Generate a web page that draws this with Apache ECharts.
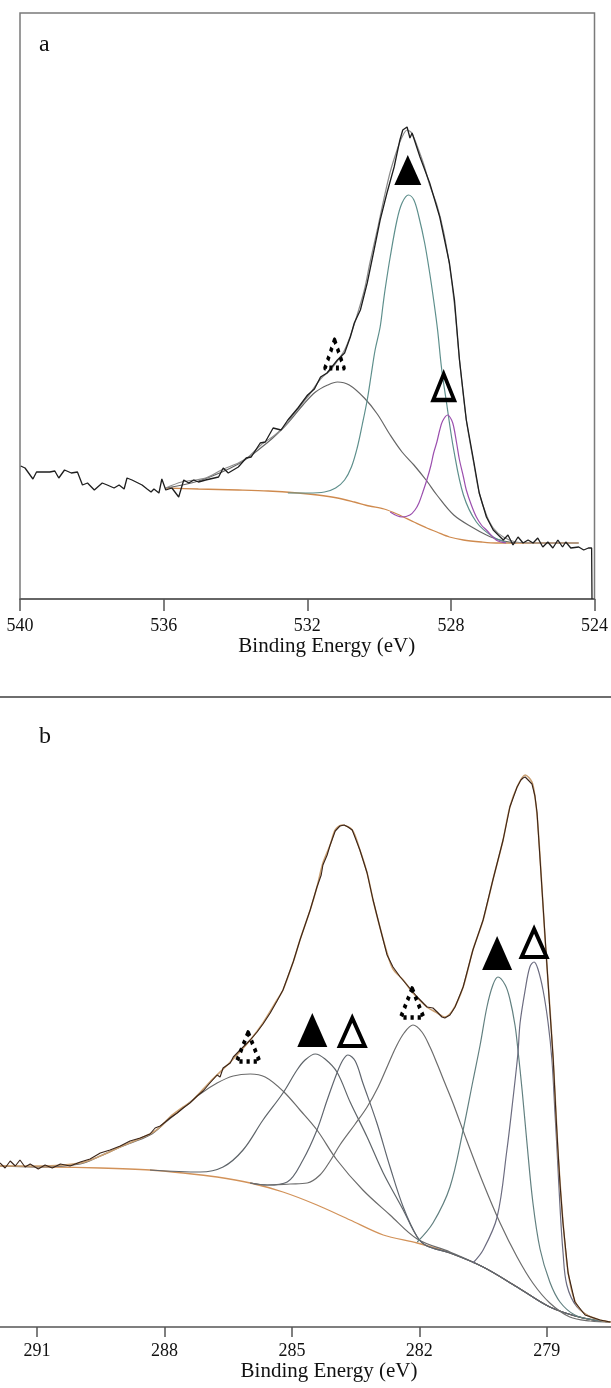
<!DOCTYPE html>
<html><head><meta charset="utf-8">
<script src="https://cdn.jsdelivr.net/npm/echarts@6/dist/echarts.min.js"></script>
<style>html,body{margin:0;padding:0;background:#fff}#c{width:611px;height:1388px}</style>
</head><body><div id="c"></div>
<script>
// ---------- Panel a (O 1s): [binding energy eV, intensity a.u.] ----------
const aTicks = [540, 536, 532, 528, 524];
const aRaw = [[539.98,133],[539.86,131],[539.64,120],[539.54,127],[539.17,127],[539.03,128],[538.92,121],[538.76,129],[538.57,126],[538.40,127],[538.26,114],[538.12,116],[537.93,109],[537.71,116],[537.57,114],[537.38,111],[537.24,114],[537.10,110],[537.02,121],[536.88,119],[536.60,114],[536.46,110],[536.35,107],[536.27,110],[536.13,106],[536.05,120],[535.94,109],[535.77,111],[535.58,102],[535.44,119],[535.30,116],[535.16,119],[535.03,117],[534.83,119],[534.47,122],[534.34,131],[534.20,126],[533.92,132],[533.70,141],[533.56,142],[533.31,156],[533.17,157],[532.95,171],[532.73,169],[532.54,179],[532.26,191],[531.99,204],[531.80,210],[531.63,222],[531.45,226],[531.16,239],[530.96,246],[530.80,262],[530.69,276],[530.52,289],[530.33,316],[530.14,349],[529.97,379],[529.78,406],[529.58,432],[529.42,459],[529.34,469],[529.22,472],[529.14,461],[529.08,466],[529.03,464],[528.86,442],[528.59,416],[528.31,382],[528.04,336],[527.90,299],[527.76,239],[527.57,179],[527.37,139],[527.21,106],[527.01,82],[526.82,69],[526.54,59],[526.41,64],[526.27,54],[526.13,62],[525.99,56],[525.85,59],[525.71,56],[525.58,61],[525.44,52],[525.30,57],[525.16,51],[525.02,59],[524.89,52],[524.80,57],[524.66,51],[524.44,52],[524.30,49],[524.17,51],[524.08,51],[524.07,0]];
const aEnvelope = [[535.94,111],[535.50,117],[534.83,121],[534.39,129],[533.92,136],[533.64,142],[533.29,154],[532.90,164],[532.62,173],[532.35,186],[531.99,202],[531.63,220],[531.35,229],[531.16,238],[530.96,249],[530.80,263],[530.61,284],[530.41,309],[530.25,337],[530.05,369],[529.86,401],[529.69,427],[529.50,449],[529.36,462],[529.22,469],[529.09,466],[528.95,454],[528.75,434],[528.59,414],[528.39,394],[528.20,367],[528.04,334],[527.90,294],[527.76,239],[527.57,179],[527.37,137],[527.21,106],[527.01,84],[526.82,71],[526.54,62],[526.18,57],[525.63,56],[525.08,56],[524.44,56]];
const aBackground = [[535.94,111],[535.03,110],[533.92,109],[533.09,108],[532.26,106],[531.71,104],[531.16,101],[530.69,97],[530.27,93],[529.86,90],[529.50,85],[529.03,77],[528.67,71],[528.39,67],[528.04,62],[527.65,59],[527.15,57],[526.74,56],[525.63,56],[524.44,56]];
const aPeak1 = [[535.94,111],[535.03,118],[533.92,135],[533.09,157],[532.54,176],[532.12,194],[531.77,207],[531.43,214],[531.16,217],[530.83,214],[530.41,201],[530.05,185],[529.69,164],[529.36,147],[529.03,134],[528.67,118],[528.39,104],[527.92,84],[527.37,71],[527.01,64],[526.65,59],[526.18,56]];
const aPeak2 = [[532.54,106],[531.99,106],[531.52,107],[531.21,111],[530.96,119],[530.77,132],[530.61,151],[530.47,174],[530.33,199],[530.22,224],[530.11,249],[529.97,272],[529.89,294],[529.83,310],[529.69,342],[529.50,379],[529.36,396],[529.18,404],[529.03,399],[528.89,382],[528.73,356],[528.59,326],[528.48,299],[528.37,269],[528.26,231],[528.12,196],[527.92,149],[527.65,104],[527.29,77],[526.82,62],[526.46,57]];
const aPeak3 = [[529.69,87],[529.36,82],[529.14,84],[529.00,89],[528.89,96],[528.78,107],[528.67,119],[528.56,133],[528.48,146],[528.39,157],[528.31,169],[528.23,178],[528.09,184],[527.98,179],[527.92,172],[527.84,156],[527.76,139],[527.65,122],[527.57,109],[527.43,94],[527.29,82],[527.15,74],[527.01,69],[526.74,59],[526.46,56]];
const aMarkFilled = [[529.20,429]];
const aMarkOpen = [[528.20,212]];
const aMarkDotted = [[531.24,245]];

// ---------- Panel b (C 1s): [binding energy eV, intensity a.u.] ----------
const bTicks = [291, 288, 285, 282, 279];
const bRaw = [[291.87,164],[291.75,159],[291.63,166],[291.51,161],[291.40,167],[291.28,160],[291.16,163],[290.97,158],[290.81,162],[290.64,159],[290.45,163],[290.22,161],[289.98,165],[289.75,168],[289.51,174],[289.28,177],[289.04,181],[288.81,186],[288.57,189],[288.34,193],[288.22,199],[288.10,201],[287.98,205],[287.87,209],[287.70,214],[287.56,219],[287.40,224],[287.23,231],[287.09,236],[286.93,244],[286.76,252],[286.69,250],[286.62,259],[286.45,264],[286.38,270],[286.22,277],[285.98,287],[285.82,295],[285.68,303],[285.51,314],[285.35,326],[285.21,337],[285.09,351],[284.97,365],[284.81,387],[284.69,402],[284.57,417],[284.41,440],[284.31,452],[284.27,462],[284.17,472],[284.10,482],[283.98,496],[283.87,501],[283.77,502],[283.68,500],[283.58,497],[283.40,477],[283.23,454],[283.09,427],[282.93,400],[282.76,372],[282.62,360],[282.45,350],[282.29,342],[282.05,330],[281.82,320],[281.68,319],[281.58,315],[281.47,310],[281.40,309],[281.28,312],[281.16,320],[280.97,340],[280.74,377],[280.50,407],[280.27,447],[280.03,487],[279.87,520],[279.70,540],[279.61,547],[279.56,549],[279.51,550],[279.44,547],[279.35,543],[279.28,531],[279.23,514],[279.16,468],[279.04,389],[278.93,318],[278.85,268],[278.78,208],[278.74,178],[278.69,143],[278.62,104],[278.50,54],[278.34,25],[278.10,12],[277.75,7],[277.51,5]];
const bEnvelope = [[291.87,161],[290.93,161],[289.98,164],[289.51,171],[289.04,180],[288.34,193],[288.10,200],[287.87,210],[287.56,220],[287.33,227],[286.93,245],[286.45,265],[285.98,287],[285.68,304],[285.35,327],[285.21,337],[284.97,365],[284.81,387],[284.57,417],[284.41,440],[284.27,464],[284.10,482],[283.98,497],[283.82,502],[283.58,497],[283.40,477],[283.23,454],[283.09,427],[282.93,400],[282.76,374],[282.62,358],[282.38,347],[282.15,334],[281.82,320],[281.58,314],[281.40,310],[281.21,317],[280.97,340],[280.74,377],[280.50,407],[280.27,447],[280.03,487],[279.87,520],[279.70,540],[279.51,552],[279.35,545],[279.28,530],[279.23,512],[279.16,470],[279.04,387],[278.93,320],[278.85,267],[278.78,210],[278.74,177],[278.69,145],[278.62,105],[278.50,55],[278.34,26],[278.10,13],[277.75,7],[277.51,5]];
const bBackground = [[291.87,161],[290.69,160],[289.51,159],[288.34,157],[287.56,154],[286.76,150],[285.98,144],[285.21,135],[284.41,122],[283.63,107],[282.85,92],[282.05,84],[281.28,74],[280.50,60],[279.70,40],[278.93,20],[278.15,9],[277.49,5]];
const bPeak1 = [[291.87,161],[290.93,160],[289.98,163],[289.51,171],[289.04,180],[288.34,192],[287.94,206],[287.56,219],[287.16,233],[286.76,244],[286.38,251],[285.98,253],[285.63,250],[285.21,236],[284.81,217],[284.41,197],[283.94,167],[283.33,137],[282.69,112],[282.05,88],[281.28,75],[280.50,60],[279.70,40],[278.93,20],[278.15,9],[277.51,5]];
const bPeak2 = [[288.34,157],[287.16,155],[286.62,160],[286.15,177],[285.68,207],[285.21,234],[284.88,257],[284.69,267],[284.45,273],[284.22,268],[283.94,255],[283.63,225],[283.23,190],[282.85,154],[282.38,117],[282.05,90],[281.82,81],[281.28,74],[280.50,60],[279.70,40],[278.93,20],[278.15,9],[277.51,5]];
const bPeak3 = [[285.98,144],[285.58,142],[285.11,145],[284.74,167],[284.41,197],[284.17,227],[283.94,254],[283.80,267],[283.68,272],[283.51,266],[283.33,244],[283.00,204],[282.69,160],[282.38,120],[282.05,90],[281.82,81],[281.28,74],[280.50,60],[279.70,40],[278.93,20],[278.15,9],[277.51,5]];
const bPeak4 = [[285.98,144],[285.58,142],[285.04,143],[284.64,144],[284.34,152],[284.10,166],[283.87,182],[283.51,203],[283.23,220],[282.97,240],[282.74,262],[282.55,280],[282.36,294],[282.15,302],[281.94,295],[281.75,280],[281.58,263],[281.40,244],[281.21,224],[280.88,186],[280.50,144],[280.10,104],[279.70,70],[279.33,44],[278.93,24],[278.46,10],[277.98,6],[277.51,5]];
const bPeak5 = [[282.05,85],[281.68,104],[281.28,140],[280.97,197],[280.74,246],[280.57,282],[280.41,320],[280.27,342],[280.15,350],[279.98,342],[279.87,328],[279.75,302],[279.68,277],[279.58,236],[279.47,185],[279.33,125],[279.16,78],[278.93,45],[278.69,25],[278.34,12],[277.87,7],[277.51,5]];
const bPeak6 = [[280.74,64],[280.50,77],[280.17,110],[279.94,177],[279.80,227],[279.68,274],[279.63,304],[279.51,337],[279.40,360],[279.30,365],[279.21,358],[279.09,337],[278.97,304],[278.88,267],[278.81,215],[278.76,177],[278.69,120],[278.62,75],[278.53,42],[278.29,20],[277.91,9],[277.51,5]];
const bMarkFilled = [[284.52,297],[280.17,374]];
const bMarkOpen = [[283.58,295],[279.30,384]];
const bMarkDotted = [[286.03,280],[282.17,324]];

// ---------- chart ----------
const serif = '"Liberation Serif","Times New Roman",serif';
const chart = echarts.init(document.getElementById('c'), null, {renderer: 'canvas'});

function line(data, ai, color, width, smooth, z) {
  return {type: 'line', xAxisIndex: ai, yAxisIndex: ai, data: data, symbol: 'none', showSymbol: false,
    smooth: smooth, lineStyle: {color: color, width: width}, z: z, silent: true};
}
function marks(data, ai, kind, size) {
  const st = kind === 'filled' ? {color: '#000', borderWidth: 0, opacity: 1}
    : kind === 'open' ? {color: 'rgba(0,0,0,0)', borderColor: '#000', borderWidth: 4, opacity: 1}
    : {color: 'rgba(0,0,0,0)', borderColor: '#000', borderWidth: 4.2, borderType: [3.6, 4.4], borderCap: 'butt', borderJoin: 'round', opacity: 1};
  return {type: 'scatter', xAxisIndex: ai, yAxisIndex: ai, data: data, symbol: 'triangle',
    symbolSize: size, itemStyle: st, z: 10, silent: true};
}
function xAxis(ai, extra) {
  return Object.assign({
    type: 'value', gridIndex: ai, inverse: true,
    axisLine: {show: true, onZero: false, lineStyle: {color: '#555', width: 1.5}},
    splitLine: {show: false},
    name: 'Binding Energy (eV)', nameLocation: 'middle', nameGap: 34,
  }, extra);
}

chart.setOption({
  animation: false,
  backgroundColor: '#fff',
  grid: [
    {left: 20, top: 13, width: 579, height: 586, show: true, borderColor: '#7a7a7a', borderWidth: 1.5, backgroundColor: 'rgba(0,0,0,0)'},
    {left: 0, top: 697, width: 611, height: 630, show: false}
  ],
  xAxis: [
    xAxis(0, {min: 524, max: 540, interval: 4,
      axisTick: {show: true, length: 12, lineStyle: {color: '#555', width: 1.5}},
      axisLabel: {color: '#111', fontFamily: serif, fontSize: 18, margin: 18},
      nameTextStyle: {fontFamily: serif, fontSize: 21, color: '#111', padding: [0, 0, 0, 39]}}),
    xAxis(1, {min: 277.49, max: 291.87,
      axisTick: {show: true, length: 10, customValues: bTicks, lineStyle: {color: '#555', width: 1.5}},
      axisLabel: {color: '#111', fontFamily: serif, fontSize: 18, margin: 15, customValues: bTicks},
      nameTextStyle: {fontFamily: serif, fontSize: 21, color: '#111', padding: [0, 0, 0, 47]}})
  ],
  yAxis: [
    {type: 'value', gridIndex: 0, min: 0, max: 586, show: false},
    {type: 'value', gridIndex: 1, min: 0, max: 630, show: false}
  ],
  graphic: [
    {type: 'line', shape: {x1: 0, y1: 697, x2: 611, y2: 697}, style: {stroke: '#6e6e6e', lineWidth: 2}, silent: true},
    {type: 'text', style: {text: 'a', x: 39, y: 45, font: '24px ' + serif, fill: '#111', align: 'left', verticalAlign: 'middle'}, silent: true},
    {type: 'text', style: {text: 'b', x: 39, y: 737, font: '24px ' + serif, fill: '#111', align: 'left', verticalAlign: 'middle'}, silent: true}
  ],
  series: [
    line(aBackground, 0, '#cf8a4e', 1.3, 0.3, 2),
    line(aPeak1, 0, '#666666', 1.2, 0.35, 3),
    line(aPeak2, 0, '#5e8f8c', 1.2, 0.35, 3),
    line(aPeak3, 0, '#9b4fae', 1.2, 0.35, 3),
    line(aEnvelope, 0, '#8c8c8c', 1.2, 0.3, 4),
    line(aRaw, 0, '#1e1e1e', 1.3, false, 5),
    marks(aMarkFilled, 0, 'filled', [27, 30]),
    marks(aMarkOpen, 0, 'open', [21, 26]),
    marks(aMarkDotted, 0, 'dotted', [19, 28]),

    line(bBackground, 1, '#d29259', 1.3, 0.3, 2),
    line(bPeak1, 1, '#6b6b6b', 1.2, 0.35, 3),
    line(bPeak2, 1, '#5f656a', 1.2, 0.35, 3),
    line(bPeak3, 1, '#60666f', 1.2, 0.35, 3),
    line(bPeak4, 1, '#6d6d6d', 1.2, 0.35, 3),
    line(bPeak5, 1, '#628080', 1.2, 0.35, 3),
    line(bPeak6, 1, '#6c6c80', 1.2, 0.35, 3),
    line(bEnvelope, 1, '#caa072', 1.6, 0.3, 4),
    line(bRaw, 1, '#3a2418', 1.1, false, 5),
    marks(bMarkFilled, 1, 'filled', [30, 34]),
    marks(bMarkOpen, 1, 'open', [25, 28]),
    marks(bMarkDotted, 1, 'dotted', [23, 29])
  ]
});
</script>
</body></html>
